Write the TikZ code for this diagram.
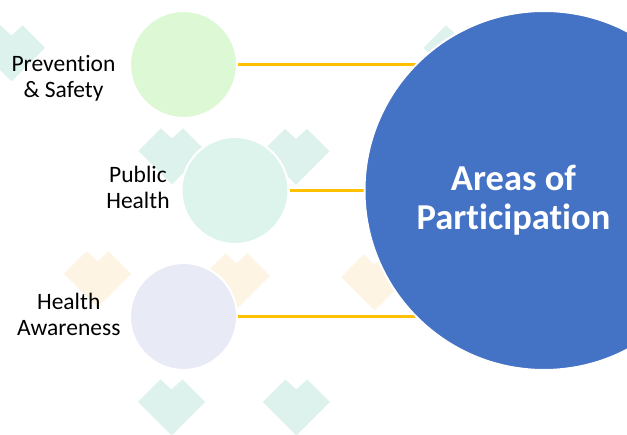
\documentclass[tikz,border=0pt]{standalone}
\usepackage{fontspec}
\setmainfont{Carlito}[Ligatures=NoCommon]
\usepackage{xcolor}
\usetikzlibrary{positioning}
\usetikzlibrary{backgrounds}
\definecolor{hubblue}{HTML}{4472C4}
\definecolor{linkyellow}{HTML}{FFC000}
\definecolor{safegreen}{HTML}{DDF8D4}
\definecolor{publicmint}{HTML}{DCF4EC}
\definecolor{awarelilac}{HTML}{E8EAF5}
\definecolor{heartmint}{HTML}{DDF2EC}
\definecolor{heartcream}{HTML}{FEF4E4}

\tikzset{
  area/.style={circle, draw=white, line width=2pt, minimum size=107pt, inner sep=0pt},
  hub/.style={circle, draw=white, line width=2pt, fill=hubblue, minimum size=359pt, inner sep=0pt},
  arealabel/.style={align=center, font=\fontsize{23.5}{26}\selectfont},
  hublabel/.style={align=center, text=white, font=\fontsize{36.5}{38.7}\selectfont\bfseries},
  link/.style={draw=linkyellow, line width=2.25pt},
  pics/heart/.style={code={
    \fill[#1] (-33.5,0) -- (-11,-22.5) -- (0,-12.5) -- (11,-22.5) -- (33.5,0) -- (0,33.5) -- cycle;
  }}
}

\begin{document}
\begin{tikzpicture}[x=1pt,y=-1pt,on grid]
   \useasboundingbox (0,0) rectangle (627,435);
   \clip (0,0) rectangle (627,435);
   \node[hub] (hub) at (544,190.5) {};
   \node[area, fill=publicmint] (pub) [left=309pt of hub] {};
   \node[area, fill=safegreen] (safe) [above left=126pt and 51.5pt of pub] {};
   \node[area, fill=awarelilac] (aware) [below left=126pt and 51.5pt of pub] {};
   \node[hublabel] (hubtxt) [below left=10pt and 30.5pt of hub] {Areas of\\Participation};
   \node[arealabel] (safetxt) [below left=14pt and 120pt of safe] {Prevention\\\& Safety};
   \node[arealabel] (pubtxt) [above left=3pt and 97pt of pub] {Public\\Health};
   \node[arealabel] (awaretxt) [above left=2.5pt and 114.75pt of aware] {Health\\Awareness};
   \begin{pgfonlayer}{background}
    \fill[white] (0,0) rectangle (627,435);
    % faded hearts behind the circles
    \foreach \x/\y in {11.5/48, 172/151, 296/151.5, 171.5/402, 296.3/402, 457/48}
      \pic at (\x,\y) {heart=heartmint};
    \foreach \x/\y in {97.5/274, 236.5/276, 374.5/277}
      \pic at (\x,\y) {heart=heartcream};
    \path[link]
    (safe.east) edge (safe.east -| hub.130)
    (pub.east) edge (hub.west)
    (aware.east) edge (aware.east -| hub.230);
   \end{pgfonlayer}
\end{tikzpicture}
\end{document}
